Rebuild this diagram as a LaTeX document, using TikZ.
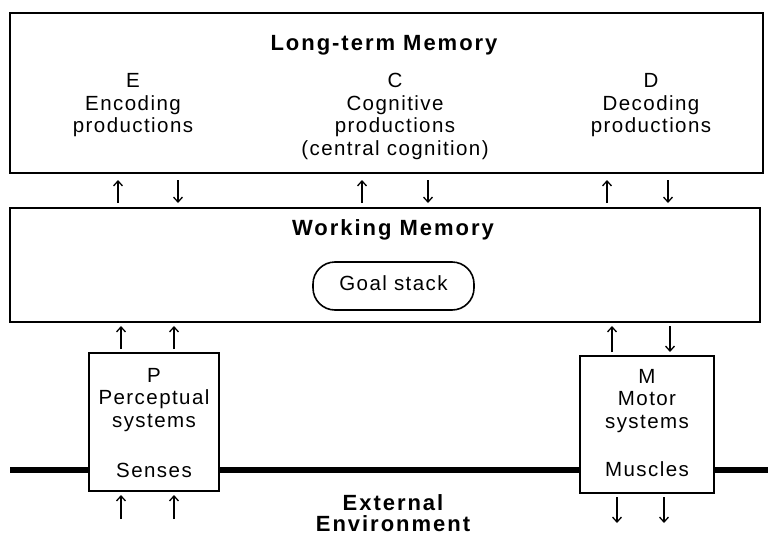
\documentclass[tikz,border=0pt]{standalone}
\usepackage{fontspec}
\setmainfont{Liberation Sans}[LetterSpace=7]
\newfontfamily\headfont{Liberation Sans}[LetterSpace=9]
\usetikzlibrary{arrows.meta}

\tikzset{
  box/.style={draw=black, line width=1.6, fill=white, inner sep=0, outer sep=0},
  lbl/.style={anchor=base, inner sep=0, font=\fontsize{20.5}{24}\selectfont},
  head/.style={anchor=base, inner sep=0, font=\fontsize{22}{26}\selectfont\headfont\bfseries},
  flow/.style={line width=1.3, -{Straight Barb[length=5, width=9, line width=1.3]}},
}

\begin{document}
\begin{tikzpicture}[x=1pt, y=-1pt]
\useasboundingbox[fill=white] (0,0) rectangle (768,535);

% boundary between organism and environment
\coordinate (envL) at (10,470);
\coordinate (envR) at (768,470);
\draw[line width=6] (envL) -- (envR);

% memories
\node[box, minimum width=753, minimum height=160] (ltm) at (386.5,93) {};
\node[box, minimum width=750, minimum height=114] (wm) at (385,265) {};
\node[box, rounded corners=22, minimum width=161, minimum height=48] (goal) at (393.5,286) {};

% peripheral systems
\node[box, minimum width=130, minimum height=138] (per) at (154,422) {};
\node[box, minimum width=134, minimum height=137] (mot) at (647,424.5) {};

% long-term memory texts
\node[head] (ltmt) at (384,51) {Long-term Memory};
\node[lbl] (e1) at (133,87) {E};
\node[lbl] (e2) at (133,110) {Encoding};
\node[lbl] (e3) at (133,132.5) {productions};
\node[lbl] (c1) at (395,87) {C};
\node[lbl] (c2) at (395,110) {Cognitive};
\node[lbl] (c3) at (395,132.5) {productions};
\node[lbl] (c4) at (395,155) {(central cognition)};
\node[lbl] (d1) at (651,87) {D};
\node[lbl] (d2) at (651,110) {Decoding};
\node[lbl] (d3) at (651,132.5) {productions};

% working memory texts
\node[head] (wmt) at (393,235) {Working Memory};
\node[lbl] (gt) at (393.5,290) {Goal stack};

% perceptual box texts
\node[lbl] (p1) at (154,382) {P};
\node[lbl] (p2) at (154,404.5) {Perceptual};
\node[lbl] (p3) at (154,427) {systems};
\node[lbl] (p4) at (154,477) {Senses};

% motor box texts
\node[lbl] (m1) at (647,383) {M};
\node[lbl] (m2) at (647,405.5) {Motor};
\node[lbl] (m3) at (647,428) {systems};
\node[lbl] (m4) at (647,476) {Muscles};

% environment label
\node[head] (ext1) at (393,510) {External};
\node[head] (ext2) at (393,531) {Environment};

% traffic between long-term and working memory
\foreach \u/\d in {118/178, 362/428, 607/668} {
  \draw[flow, shorten <=5, shorten >=7] (wm.north -| \u,0) -- (ltm.south -| \u,0);
  \draw[flow, shorten <=7, shorten >=5] (ltm.south -| \d,0) -- (wm.north -| \d,0);
}

% perceptual input
\coordinate (inA) at (121,519);
\coordinate (inB) at (174,519);
\foreach \x/\c in {121/inA, 174/inB} {
  \draw[flow, shorten >=4] (\c) -- (per.south -| \x,0);
  \draw[flow, shorten <=4, shorten >=4] (per.north -| \x,0) -- (wm.south -| \x,0);
}

% motor output
\draw[flow, shorten <=4, shorten >=4] (mot.north -| 612,0) -- (wm.south -| 612,0);
\draw[flow, shorten <=4, shorten >=4] (wm.south -| 670,0) -- (mot.north -| 670,0);
\coordinate (outA) at (617,523);
\coordinate (outB) at (664,523);
\draw[flow, shorten <=4] (mot.south -| 617,0) -- (outA);
\draw[flow, shorten <=4] (mot.south -| 664,0) -- (outB);
\end{tikzpicture}
\end{document}
